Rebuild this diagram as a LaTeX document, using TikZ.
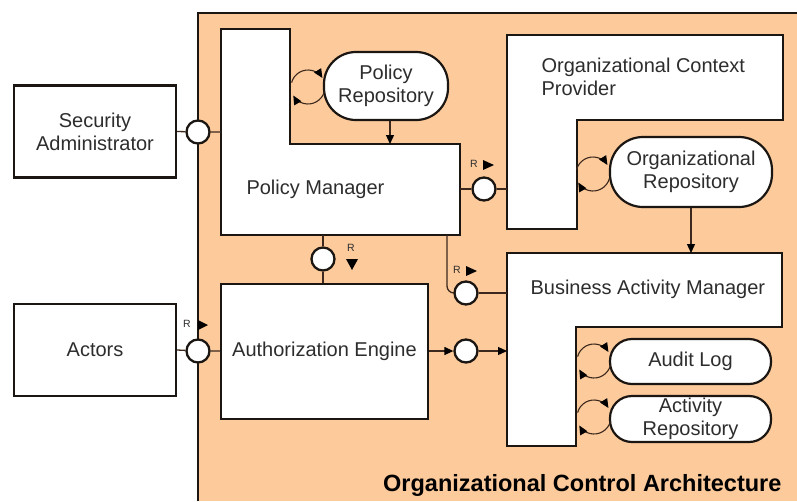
\documentclass[tikz,border=0pt]{standalone}
\usepackage{fontspec}
\setmainfont{Liberation Sans}
\usetikzlibrary{arrows.meta,calc}

\definecolor{peach}{RGB}{252,202,155}
\definecolor{edge}{RGB}{28,22,18}
\definecolor{wire}{RGB}{60,40,28}
\definecolor{ink}{RGB}{45,45,45}

% self-loop between a component and its repository
\newcommand{\repoloop}[1]{%
  \draw[wire,thin line,tip] ([shift={(165:17pt)}]#1) arc[start angle=165,end angle=32,radius=17pt];
  \draw[wire,thin line,tip] ([shift={(-15:17pt)}]#1) arc[start angle=-15,end angle=-150,radius=17pt];}

\begin{document}
\begin{tikzpicture}[x=1pt,y=-1pt,
  box/.style={draw=edge,line width=2.2pt,fill=white,line join=miter},
  rbox/.style={box,rectangle,inner sep=0pt},
  store/.style={box,rectangle,inner sep=0pt,rounded corners=#1},
  lbl/.style={font=\fontsize{20}{23}\selectfont,text=ink,align=center},
  port/.style={circle,draw=edge,line width=2.3pt,fill=white,minimum size=23pt,inner sep=0pt},
  wire/.style={draw=wire,line width=1.3pt},
  thin line/.style={line width=1.1pt},
  tip/.style={-{Triangle[length=9pt,width=8pt,color=black]}},
  rtag/.style={font=\fontsize{10.5}{11}\selectfont,text=ink,inner sep=0pt},
  flag/.style={fill=black}]

\useasboundingbox (0,0) rectangle (797,501);
\fill[white] (0,0) rectangle (797,501);

% enclosing architecture region
\fill[peach] (198,13) rectangle (797,501);
\draw[edge,line width=2pt] (198,501) -- (198,13) -- (797,13);

% external actors
\node[rbox,lbl,minimum width=162pt,minimum height=92pt] (sa) at (95,131.5) {Security\\Administrator};
\node[rbox,lbl,minimum width=162pt,minimum height=92pt] (actors) at (95,350) {Actors};

% Policy Manager (L-shaped component)
\draw[box] (221,29) -- (290,29) -- (290,144) -- (460,144) -- (460,235) -- (221,235) -- cycle;
\node[lbl,anchor=west] (pm) at (243,189) {Policy Manager};
\coordinate (pmW) at (221,132);
\coordinate (pmE) at (460,189);
\coordinate (pmS) at (323,235);
\coordinate (pmSE) at (447,235);
\coordinate (pmN) at (386,144);

% Organizational Context Provider
\draw[box] (507,35) -- (783,35) -- (783,120) -- (577,120) -- (577,229) -- (507,229) -- cycle;
\node[lbl,anchor=west,align=left] (ocp) at (538,76.5) {Organizational Context\\Provider};
\coordinate (ocpW) at (507,189);

% Business Activity Manager
\draw[box] (507,253) -- (782,253) -- (782,327) -- (576,327) -- (576,446) -- (507,446) -- cycle;
\node[lbl,anchor=west] (bam) at (527,289) {Business Activity Manager};
\coordinate (bamW1) at (507,293);
\coordinate (bamW2) at (507,351);
\coordinate (bamN) at (691,253);

% Authorization Engine
\node[rbox,lbl,minimum width=207pt,minimum height=135pt] (ae) at (324.5,351.5) {Authorization Engine};

% repositories
\node[store=32pt,lbl,minimum width=124pt,minimum height=68pt] (prepo) at (386,86) {Policy\\Repository};
\node[store=33pt,lbl,minimum width=162pt,minimum height=70pt] (orepo) at (691,172) {Organizational\\Repository};
\node[store=22pt,lbl,minimum width=161pt,minimum height=45pt] (audit) at (690.5,361.5) {Audit Log};
\node[store=22pt,lbl,minimum width=161pt,minimum height=46pt,font=\fontsize{20}{23}\selectfont] (actrepo) at (690.5,419) {Activity\\Repository};

% ports
\node[port] (p1) at (198,132) {};
\node[port] (p2) at (484,189) {};
\node[port] (p3) at (323,259) {};
\node[port] (p4) at (466,293) {};
\node[port] (p5) at (198,351) {};
\node[port] (p6) at (466,351) {};

% connectors
\draw[wire] (sa.east) -- (p1) -- (pmW);
\draw[wire] (pmE) -- (p2) -- (ocpW);
\draw[wire] (pmS) -- (p3) -- (ae.north -| p3);
\draw[wire,rounded corners=7pt] (pmSE) -- (pmSE |- p4) -- (p4.west);
\draw[wire] (p4) -- (bamW1);
\draw[wire] (actors.east) -- (p5) -- (ae.west |- p5);
\draw[wire,tip] (ae.east |- p6) -- (p6);
\draw[wire,tip] (p6) -- (bamW2);
\draw[wire,tip] (prepo.south -| 390,0) -- (pmN -| 390,0);
\draw[wire,tip] (orepo.south) -- (bamN);

% component/repository loops
\coordinate (l1) at (308,87);
\coordinate (l2) at (593,174);
\coordinate (l3) at (594,361);
\coordinate (l4) at (594,417);
\repoloop{l1}
\repoloop{l2}
\repoloop{l3}
\repoloop{l4}

% direction tags
\node[rtag] (r1) at (474,164) {R};
\fill[flag] (483,160) -- (494,165) -- (483,170) -- cycle;
\node[rtag] (r2) at (351,248) {R};
\fill[flag] (346,259) -- (358,259) -- (352,270) -- cycle;
\node[rtag] (r3) at (457,270) {R};
\fill[flag] (466,266) -- (477,271) -- (466,276) -- cycle;
\node[rtag] (r4) at (187,324) {R};
\fill[flag] (198,320) -- (208,325) -- (198,330) -- cycle;

% title
\node[anchor=base west,inner sep=0pt,font=\bfseries\fontsize{23.5}{28}\selectfont,text=black] (title) at (383,491) {Organizational Control Architecture};
\end{tikzpicture}
\end{document}
